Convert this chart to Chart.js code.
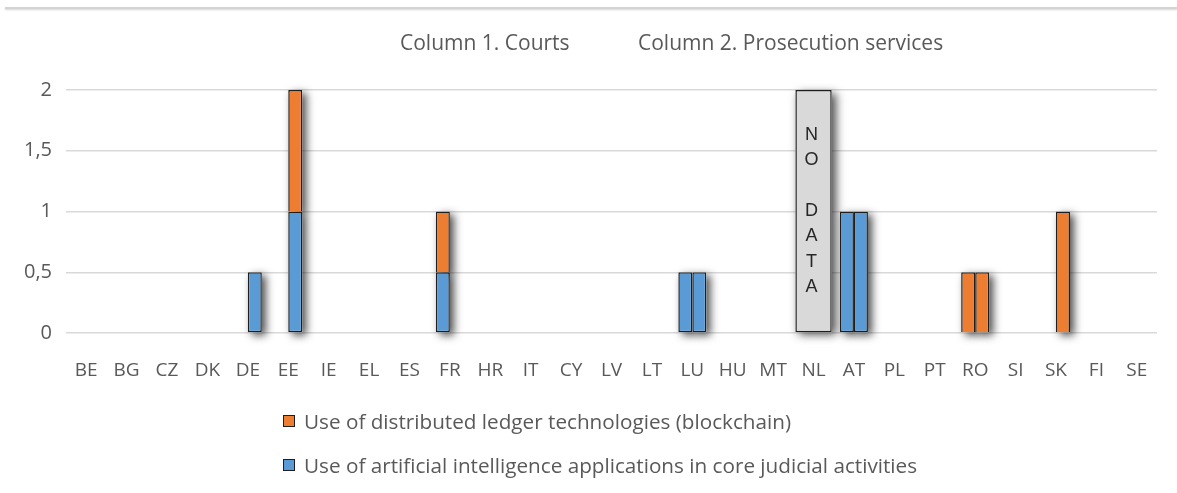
<!DOCTYPE html>
<html>
<head>
<meta charset="utf-8">
<script src="https://cdn.jsdelivr.net/npm/chart.js@4/dist/chart.umd.min.js"></script>
<style>
  html, body { margin: 0; padding: 0; background: #fff; }
  #wrap { position: relative; width: 1177px; height: 493px; overflow: hidden; font-family: "Open Sans", sans-serif; color: #595959; }
  #topline { position: absolute; top: 7px; left: 5px; right: 0; height: 2px; background: #d4d4d4; box-shadow: 0 1px 2px rgba(0,0,0,0.18); }
  #chart { position: absolute; left: 0; top: 0; }
  .colhead { position: absolute; top: 32px; font-size: 21px; line-height: 21px; white-space: nowrap; }
  #legend { position: absolute; left: 283px; top: 408px; }
  .leg-item { display: flex; align-items: center; height: 26px; margin-bottom: 18px; font-size: 20.7px; white-space: nowrap; }
  .leg-box { width: 10px; height: 10px; border: 1.5px solid #1e1e1e; margin-right: 9px; }
</style>
</head>
<body>
<div id="wrap">
  <div id="topline"></div>
  <canvas id="chart" width="1177" height="493"></canvas>
  <div class="colhead" style="left:400px">Column 1. Courts</div>
  <div class="colhead" style="left:638px">Column 2. Prosecution services</div>
  <div id="legend"></div>
</div>
<script>
// member states on the category axis
const countries = ["BE", "BG", "CZ", "DK", "DE", "EE", "IE", "EL", "ES", "FR", "HR", "IT", "CY", "LV",
  "LT", "LU", "HU", "MT", "NL", "AT", "PL", "PT", "RO", "SI", "SK", "FI", "SE"];

// column 1 = courts, column 2 = prosecution services
const aiCourts = [0, 0, 0, 0, 0, 0, 0, 0, 0, 0.5, 0, 0, 0, 0, 0, 0.5, 0, 0, null, 1, 0, 0, 0, 0, 0, 0, 0];
const aiProsecution = [0, 0, 0, 0, 0.5, 1, 0, 0, 0, 0, 0, 0, 0, 0, 0, 0.5, 0, 0, null, 1, 0, 0, 0, 0, 0, 0, 0];
const blockchainCourts = [0, 0, 0, 0, 0, 0, 0, 0, 0, 0.5, 0, 0, 0, 0, 0, 0, 0, 0, null, 0, 0, 0, 0.5, 0, 0, 0, 0];
const blockchainProsecution = [0, 0, 0, 0, 0, 1, 0, 0, 0, 0, 0, 0, 0, 0, 0, 0, 0, 0, null, 0, 0, 0, 0.5, 0, 1, 0, 0];
// NL did not report
const noData = [null, null, null, null, null, null, null, null, null, null, null, null, null, null,
  null, null, null, null, 2, null, null, null, null, null, null, null, null];
const noDataText = "NO DATA";

const yTicks = [0, 0.5, 1, 1.5, 2];
const columnHeads = ["Column 1. Courts", "Column 2. Prosecution services"];
const seriesNames = [
  "Use of distributed ledger technologies (blockchain)",
  "Use of artificial intelligence applications in core judicial activities"
];
const orange = "#ED7D31";
const blue = "#5B9BD5";
const edge = "#1e1e1e";

// legend: blockchain on top, AI below
const legend = document.getElementById("legend");
[[seriesNames[0], orange], [seriesNames[1], blue]].forEach(([name, color]) => {
  const row = document.createElement("div");
  row.className = "leg-item";
  const box = document.createElement("span");
  box.className = "leg-box";
  box.style.background = color;
  const txt = document.createElement("span");
  txt.textContent = name;
  row.appendChild(box);
  row.appendChild(txt);
  legend.appendChild(row);
});

// soft drop shadow behind every bar
const barShadow = {
  id: "barShadow",
  beforeDatasetsDraw(chart) {
    const ctx = chart.ctx;
    ctx.save();
    ctx.shadowColor = "rgba(0,0,0,0.7)";
    ctx.shadowBlur = 9;
    ctx.shadowOffsetX = 4;
    ctx.shadowOffsetY = 3;
    ctx.fillStyle = "#ffffff";
    chart.getSortedVisibleDatasetMetas().forEach(meta => {
      meta.data.forEach((el, i) => {
        const v = chart.data.datasets[meta.index].data[i];
        if (!v) return;
        const { x, y, base, width } = el.getProps(["x", "y", "base", "width"], true);
        ctx.fillRect(x - width / 2, Math.min(y, base), width, Math.abs(base - y));
      });
    });
    ctx.restore();
  }
};

// vertical "NO DATA" lettering inside the grey bar
const noDataLabel = {
  id: "noDataLabel",
  afterDatasetsDraw(chart) {
    const ctx = chart.ctx;
    const dsIndex = chart.data.datasets.findIndex(d => d.noData);
    const meta = chart.getDatasetMeta(dsIndex);
    meta.data.forEach((el, i) => {
      if (noData[i] == null) return;
      const { x, y, base } = el.getProps(["x", "y", "base"], true);
      const letters = noDataText.split("");
      const step = 25.3;
      const mid = (y + base) / 2;
      const start = mid - (letters.length - 1) / 2 * step;
      ctx.save();
      ctx.font = '18px "Liberation Sans", Arial, sans-serif';
      ctx.fillStyle = "#262626";
      ctx.textAlign = "center";
      ctx.textBaseline = "middle";
      letters.forEach((ch, k) => ctx.fillText(ch, x - 2, start + k * step));
      ctx.restore();
    });
  }
};

Chart.defaults.font.family = '"Open Sans", sans-serif';
Chart.defaults.color = "#595959";

const barBase = {
  borderColor: edge,
  borderWidth: 1.5,
  categoryPercentage: 0.693,
  barPercentage: 1
};

new Chart(document.getElementById("chart").getContext("2d"), {
  type: "bar",
  data: {
    labels: countries,
    datasets: [
      { ...barBase, label: seriesNames[1], data: aiCourts, backgroundColor: blue, stack: "courts", borderSkipped: false },
      { ...barBase, label: seriesNames[1], data: aiProsecution, backgroundColor: blue, stack: "prosecution", borderSkipped: false },
      { ...barBase, label: seriesNames[0], data: blockchainCourts, backgroundColor: orange, stack: "courts", borderSkipped: "start" },
      { ...barBase, label: seriesNames[0], data: blockchainProsecution, backgroundColor: orange, stack: "prosecution", borderSkipped: "start" },
      {
        label: noDataText, data: noData, noData: true, grouped: false, stack: "nodata",
        backgroundColor: "#d9d9d9", borderColor: edge, borderWidth: 1.5, borderSkipped: false,
        categoryPercentage: 0.9, barPercentage: 1
      }
    ]
  },
  options: {
    responsive: false,
    animation: false,
    layout: { padding: { top: 90, right: 20, bottom: 100, left: 0 } },
    plugins: {
      legend: { display: false },
      tooltip: { enabled: false }
    },
    scales: {
      x: {
        stacked: true,
        grid: { display: false },
        border: { display: false },
        ticks: { font: { size: 19 }, padding: 18, maxRotation: 0, autoSkip: false },
        afterFit: s => { s.height = 60; }
      },
      y: {
        stacked: true,
        min: 0,
        max: 2,
        grid: { color: "#d9d9d9", lineWidth: 1.5, drawTicks: false },
        border: { display: false },
        afterBuildTicks: s => { s.ticks = yTicks.map(v => ({ value: v })); },
        ticks: {
          font: { size: 20 },
          padding: 14,
          callback: v => String(v).replace(".", ",")
        },
        afterFit: s => { s.width = 66; }
      }
    }
  },
  plugins: [barShadow, noDataLabel]
});
</script>
</body>
</html>
